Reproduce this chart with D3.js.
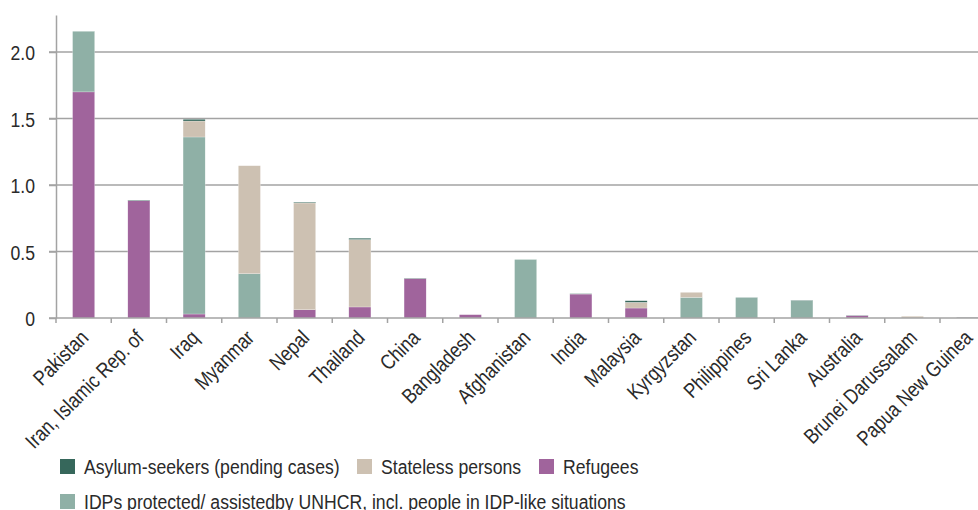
<!DOCTYPE html>
<html>
<head>
<meta charset="utf-8">
<script src="https://cdn.jsdelivr.net/npm/d3@7"></script>
<style>
  html, body { margin: 0; padding: 0; background: #ffffff; }
  svg { display: block; }
  text { font-family: "Liberation Sans", Arial, sans-serif; fill: #2a2a2a; }
</style>
</head>
<body>
<svg id="chart" width="978" height="510"></svg>
<script>
const categories = ["Pakistan", "Iran, Islamic Rep. of", "Iraq", "Myanmar", "Nepal", "Thailand", "China",
  "Bangladesh", "Afghanistan", "India", "Malaysia", "Kyrgyzstan", "Philippines", "Sri Lanka",
  "Australia", "Brunei Darussalam", "Papua New Guinea"];

const refugees  = [1.700, 0.882, 0.030, 0.000, 0.062, 0.083, 0.296, 0.025, 0.000, 0.180, 0.075, 0.000, 0.000, 0.000, 0.018, 0.000, 0.003];
const idps      = [0.456, 0.000, 1.331, 0.333, 0.000, 0.000, 0.000, 0.000, 0.440, 0.000, 0.000, 0.155, 0.155, 0.130, 0.000, 0.000, 0.000];
const stateless = [0.000, 0.000, 0.120, 0.812, 0.803, 0.507, 0.000, 0.000, 0.000, 0.000, 0.043, 0.038, 0.000, 0.000, 0.000, 0.013, 0.000];
const asylum    = [0.000, 0.004, 0.013, 0.000, 0.006, 0.010, 0.003, 0.000, 0.000, 0.003, 0.012, 0.000, 0.000, 0.003, 0.002, 0.000, 0.002];

const yTicks = [0, 0.5, 1.0, 1.5, 2.0];
const yTickLabels = ["0", "0.5", "1.0", "1.5", "2.0"];

const seriesKeys = ["refugees", "idps", "stateless", "asylum"];
const seriesNames = {
  asylum: "Asylum-seekers (pending cases)",
  stateless: "Stateless persons",
  refugees: "Refugees",
  idps: "IDPs protected/ assistedby UNHCR, incl. people in IDP-like situations"
};
const colors = { refugees: "#a0649c", idps: "#8fb0a6", stateless: "#cdc1b2", asylum: "#36675b" };

const rows = categories.map((c, i) => ({
  country: c, refugees: refugees[i], idps: idps[i], stateless: stateless[i], asylum: asylum[i]
}));

const FS = 21, SX = 0.84;   // condensed look: font size and horizontal squeeze
const svg = d3.select("#chart");
const x0 = 56, y0 = 318;
const step = 55.25;
const x = d3.scaleBand().domain(categories).range([x0, x0 + step * categories.length]).paddingInner(0.6).paddingOuter(0.3);
const y = d3.scaleLinear().domain([0, 2.2782]).range([y0, 15]);

// gridlines
svg.append("g").selectAll("line").data(yTicks.filter(d => d > 0)).join("line")
  .attr("x1", 49).attr("x2", 978)
  .attr("y1", d => y(d)).attr("y2", d => y(d))
  .attr("stroke", "#a3a3a3").attr("stroke-width", 1.5);

// y axis
const yAxis = d3.axisLeft(y).tickValues(yTicks).tickFormat((d, i) => yTickLabels[i]).tickSize(7).tickSizeOuter(0);
const gy = svg.append("g").attr("transform", `translate(${x0},0)`).call(yAxis);
gy.attr("font-family", null).attr("font-size", null);
gy.select(".domain").attr("stroke", "#a3a3a3").attr("stroke-width", 1.5);
gy.selectAll(".tick line").attr("stroke", "#a3a3a3").attr("stroke-width", 1.5);
gy.selectAll(".tick text").attr("x", 0).attr("dy", "0.36em")
  .attr("transform", `translate(-21,0) scale(${SX},1)`)
  .style("font-size", FS + "px").attr("fill", "#2a2a2a");

// bars
const stack = d3.stack().keys(seriesKeys)(rows);
const bars = svg.append("g");
stack.forEach(layer => {
  bars.append("g").attr("fill", colors[layer.key])
    .selectAll("rect").data(layer).join("rect")
    .attr("x", d => x(d.data.country))
    .attr("width", x.bandwidth())
    .attr("y", d => y(d[1]))
    .attr("height", d => Math.max(0, y(d[0]) - y(d[1])))
    .attr("stroke", "#ffffff").attr("stroke-width", 0.4).attr("stroke-opacity", 0.6);
});

// x axis
const xAxisG = svg.append("g").attr("transform", `translate(0,${y0})`);
xAxisG.append("line").attr("x1", 49).attr("x2", 978).attr("y1", 0).attr("y2", 0)
  .attr("stroke", "#a3a3a3").attr("stroke-width", 1.5);
xAxisG.selectAll("line.tk").data(categories).join("line").attr("class", "tk")
  .attr("x1", d => x(d) - (x.step() - x.bandwidth()) / 2)
  .attr("x2", d => x(d) - (x.step() - x.bandwidth()) / 2)
  .attr("y1", 0).attr("y2", 5).attr("stroke", "#a3a3a3").attr("stroke-width", 1.5);
xAxisG.selectAll("text").data(categories).join("text")
  .attr("text-anchor", "end")
  .attr("transform", d => `translate(${x(d) + x.bandwidth() / 2 + 6},${21}) rotate(-45) scale(${SX},1)`)
  .style("font-size", FS + "px")
  .text(d => d);

// legend
const legend = svg.append("g");
const legendItems = [
  { key: "asylum", sx: 60, sy: 459 },
  { key: "stateless", sx: 357, sy: 459 },
  { key: "refugees", sx: 539, sy: 459 },
  { key: "idps", sx: 60, sy: 494 }
];
legendItems.forEach(it => {
  legend.append("rect").attr("x", it.sx).attr("y", it.sy).attr("width", 15).attr("height", 15).attr("fill", colors[it.key]);
  legend.append("text")
    .attr("transform", `translate(${it.sx + 24},${it.sy + 15}) scale(${SX},1)`)
    .style("font-size", FS + "px").text(seriesNames[it.key]);
});
</script>
</body>
</html>
